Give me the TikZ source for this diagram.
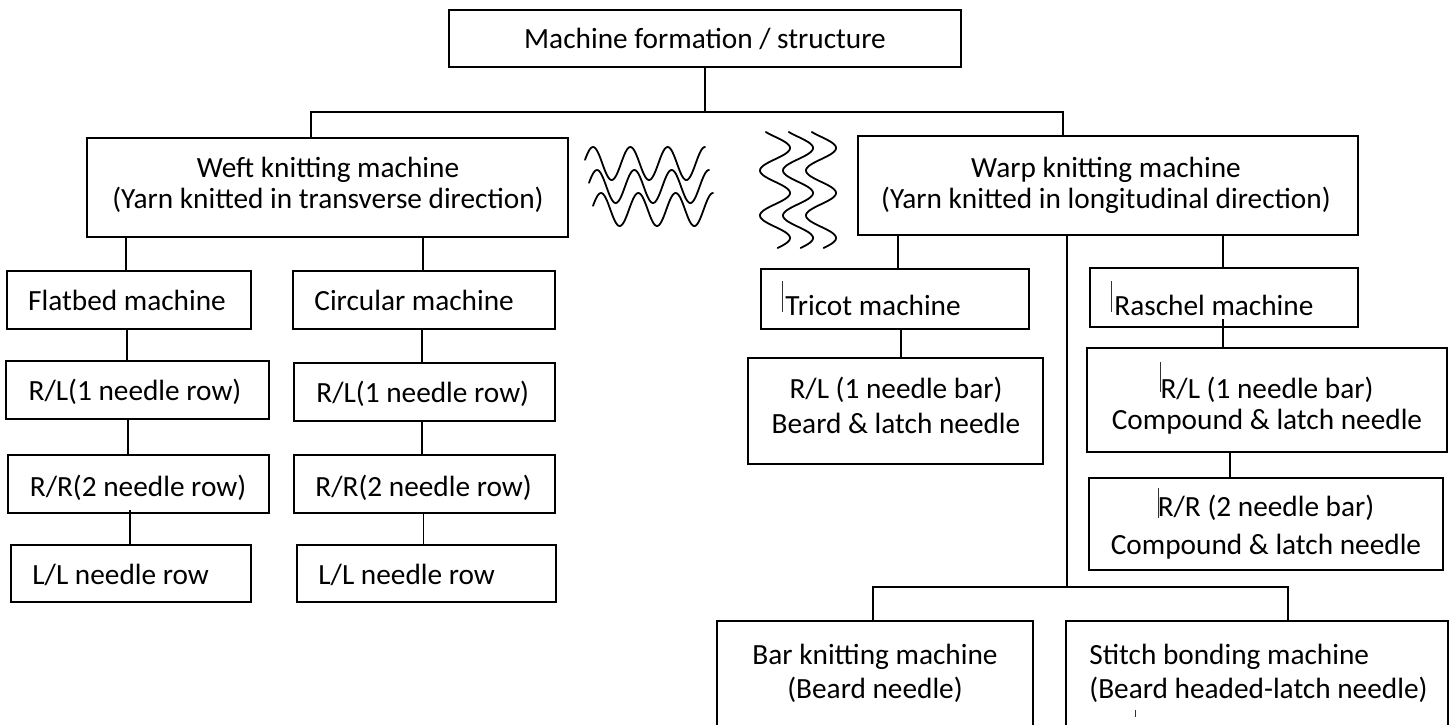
\documentclass[tikz,border=0pt]{standalone}
\usepackage{fontspec}
\setmainfont{Carlito}
\usetikzlibrary{fit}

\begin{document}
\begin{tikzpicture}[x=0.5pt, y=-0.5pt,
  box/.style={draw, line width=1.1pt, inner sep=0pt},
  conn/.style={line width=0.8pt},
  txt/.style={inner sep=0pt, font=\fontsize{14.65}{17}\selectfont},
  wave/.style={line width=0.9pt, line cap=round, line join=round},
  caret/.style={line width=0.45pt, black!80}]

\useasboundingbox (0,0) rectangle (1454,724);
\clip (0,0) rectangle (1454,724);

% ---------- boxes ----------
\node[box, line width=1.3pt, fit={(449,10) (961,67)}] (top) {};
\node[box, fit={(87,138) (568,237)}] (weft) {};
\node[box, fit={(858,136) (1358,235)}] (warp) {};

\node[box, fit={(7,271) (251,329)}] (flat) {};
\node[box, fit={(293,271) (555,329)}] (circ) {};
\node[box, fit={(6,361) (269,419)}] (rlL) {};
\node[box, fit={(294,363) (555,421)}] (rlC) {};
\node[box, fit={(8,455) (269,513)}] (rrL) {};
\node[box, fit={(294,455) (555,513)}] (rrC) {};
\node[box, fit={(11,545) (251,602)}] (llL) {};
\node[box, fit={(297,545) (556,602)}] (llC) {};

\node[box, fit={(761,269) (1029,329)}] (tri) {};
\node[box, fit={(1090,268) (1358,327)}] (ras) {};
\node[box, fit={(748,358) (1043,464)}] (triRL) {};
\node[box, fit={(1087,348) (1447,452)}] (rasRL) {};
\node[box, fit={(1089,478) (1443,570)}] (rasRR) {};
\node[box, fit={(717,621) (1033,760)}] (bar) {};
\node[box, fit={(1066,621) (1448,760)}] (sti) {};

% ---------- texts ----------
\node[txt, anchor=base] (topT) at (705,48) {Machine formation / structure};

\node[txt, anchor=base] (weftA) at (328,177) {Weft knitting machine};
\node[txt, anchor=base] (weftB) at (328,208) {(Yarn knitted in transverse direction)};
\node[txt, anchor=base] (warpA) at (1106,177) {Warp knitting machine};
\node[txt, anchor=base] (warpB) at (1106,208) {(Yarn knitted in longitudinal direction)};

\node[txt, anchor=base] (flatT) at (127,310) {Flatbed machine};
\node[txt, anchor=base west] (circT) at (314,310) {Circular machine};
\node[txt, anchor=base] (rlLT) at (135,400) {R/L(1 needle row)};
\node[txt, anchor=base west] (rlCT) at (316,402) {R/L(1 needle row)};
\node[txt, anchor=base] (rrLT) at (138,496) {R/R(2 needle row)};
\node[txt, anchor=base west] (rrCT) at (315,496) {R/R(2 needle row)};
\node[txt, anchor=base west] (llLT) at (32,584) {L/L needle row};
\node[txt, anchor=base west] (llCT) at (318,584) {L/L needle row};

\node[txt, anchor=base west] (triT) at (785,315) {Tricot machine};
\node[txt, anchor=base west] (rasT) at (1114,315) {Raschel machine};
\node[txt, anchor=base] (triRLA) at (896,398) {R/L (1 needle bar)};
\node[txt, anchor=base] (triRLB) at (896,433) {Beard \& latch needle};
\node[txt, anchor=base] (rasRLA) at (1267,398) {R/L (1 needle bar)};
\node[txt, anchor=base] (rasRLB) at (1267,429) {Compound \& latch needle};
\node[txt, anchor=base] (rasRRA) at (1266,516) {R/R (2 needle bar)};
\begin{scope}
  % the lower line of this box runs into its border and is cut off
  \clip (1089,525) rectangle (1443,559);
  \node[txt, anchor=base] (rasRRB) at (1266,554) {Compound \& latch needle};
\end{scope}

\node[txt, anchor=base] (barA) at (875,664) {Bar knitting machine};
\node[txt, anchor=base] (barB) at (875,698) {(Beard needle)};
\node[txt, anchor=base west] (stiA) at (1089,664) {Stitch bonding machine};
\node[txt, anchor=base west] (stiB) at (1089,698) {(Beard headed-latch needle)};

% ---------- text cursor marks ----------
\draw[caret] (782,281) -- (782,312);
\draw[caret] (1111,281) -- (1111,312);
\draw[caret] (1160,362) -- (1160,392);
\draw[caret] (1158,488) -- (1158,518);
\draw[caret] (1135,710) -- (1135,717);

% ---------- connector helpers ----------
\coordinate (jT) at (705,112);
\coordinate (jL) at (311,112);
\coordinate (jR) at (1063,112);
\coordinate (xa) at (126,0);
\coordinate (xb) at (423,0);
\coordinate (xc) at (127,0);
\coordinate (xd) at (422,0);
\coordinate (xe) at (128,0);
\coordinate (xg) at (130,0);
\coordinate (xh) at (423.5,0);
\coordinate (xi) at (898,0);
\coordinate (xj) at (1223,0);
\coordinate (xk) at (901,0);
\coordinate (xl) at (1230,0);
\coordinate (xm) at (1067,0);
\coordinate (rasIn) at (1223,319);
\coordinate (rrIn) at (130,510);
\coordinate (jB) at (1067,587);
\coordinate (bL) at (873,587);
\coordinate (bR) at (1288,587);

% ---------- connectors ----------
\draw[conn] (top.south) -- (jT);
\draw[conn] (weft.north -| jL) -- (jL) -- (jR) -- (warp.north -| jR);

\draw[conn] (weft.south -| xa) -- (flat.north -| xa);
\draw[conn] (weft.south -| xb) -- (circ.north -| xb);
\draw[conn] (flat.south -| xc) -- (rlL.north -| xc);
\draw[conn] (circ.south -| xd) -- (rlC.north -| xd);
\draw[conn] (rlL.south -| xe) -- (rrL.north -| xe);
\draw[conn] (rlC.south -| xd) -- (rrC.north -| xd);
\draw[conn] (rrIn) -- (llL.north -| xg);
\draw[conn] (rrC.south -| xh) -- (llC.north -| xh);

\draw[conn] (warp.south -| xi) -- (tri.north -| xi);
\draw[conn] (warp.south -| xj) -- (ras.north -| xj);
\draw[conn] (tri.south -| xk) -- (triRL.north -| xk);
\draw[conn] (rasIn) -- (rasRL.north -| xj);
\draw[conn] (rasRL.south -| xl) -- (rasRR.north -| xl);
\draw[conn] (warp.south -| xm) -- (jB);
\draw[conn] (bar.north -| bL) -- (bL) -- (bR) -- (sti.north -| bR);

% ---------- yarn path sketches ----------
\foreach \k in {0,1,2}
  \draw[wave] plot[domain=-8:112, samples=120, variable=\t]
    ({593+4*\k+\t},{163.5+23*\k-16.5*cos(9.6437*\t)});
\foreach \k in {0,1,2}
  \draw[wave] plot[domain=132:248, samples=120, variable=\s]
    ({775+23*\k+15*cos(8*(\s-148))},{\s});

\end{tikzpicture}
\end{document}
